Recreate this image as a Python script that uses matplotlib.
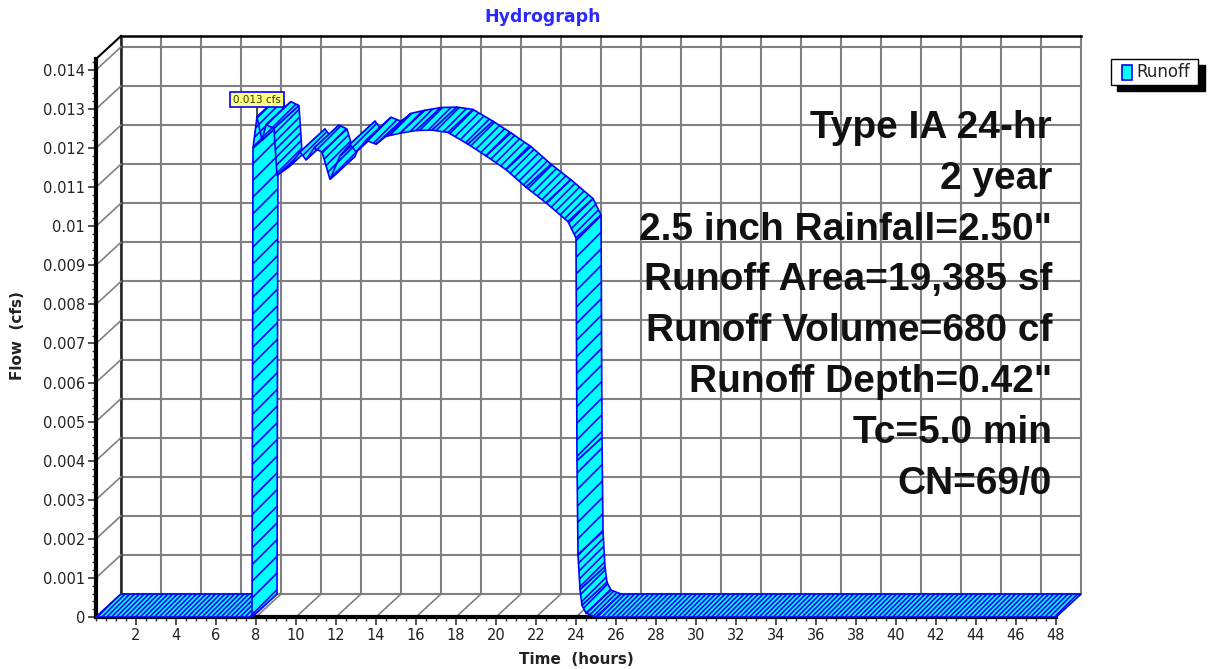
import numpy as np
import matplotlib
matplotlib.use("Agg")
import matplotlib.pyplot as plt
from matplotlib.patches import Polygon, Rectangle
from matplotlib.ticker import MultipleLocator, FixedLocator, FuncFormatter

# Runoff hydrograph, Type IA 24-hr storm (time in hours, flow in cfs)
time_hr = [0.0, 7.80, 7.85, 8.05, 8.30, 8.50, 8.90, 9.05, 9.60, 10.2, 10.5,
           10.9, 11.3, 11.7, 12.2, 12.7, 13.0, 13.5, 14.0, 14.5, 15.2, 16.0,
           16.8, 17.6, 18.6, 19.5, 20.5, 21.5, 22.5, 23.6, 24.0, 24.05, 24.1,
           24.2, 24.3, 24.5, 25.0, 48.0]
flow_cfs = [0.0, 0.0, 0.0120, 0.0128, 0.0122, 0.0126, 0.0125, 0.0113, 0.0115,
            0.0119, 0.0117, 0.0120, 0.0119, 0.0112, 0.0118, 0.0121, 0.0119,
            0.0122, 0.0121, 0.0123, 0.01238, 0.01245, 0.01246, 0.0124, 0.0121,
            0.0118, 0.01145, 0.0110, 0.0106, 0.01012, 0.0097, 0.0040, 0.0016,
            0.0007, 0.0003, 0.0001, 0.0, 0.0]

x_ticks = list(range(2, 49, 2))
summary_lines = ["Type IA 24-hr", "2 year", '2.5 inch Rainfall=2.50"',
                 "Runoff Area=19,385 sf", "Runoff Volume=680 cf",
                 'Runoff Depth=0.42"', "Tc=5.0 min", "CN=69/0"]

W, H = 1209, 669
CYAN, BLUE, GRID = "#00ffff", "#0000ff", "#808080"
X_MAX, Y_MAX = 48, 0.01428

plt.rcParams["font.family"] = ["DejaVu Sans"]
plt.rcParams["hatch.color"] = BLUE
plt.rcParams["hatch.linewidth"] = 1.2


def fx(px):
    return px / W


def fy(py):
    return 1 - py / H


fig = plt.figure(figsize=(W / 100, H / 100), dpi=100)
ax = fig.add_axes([fx(96), fy(617), 960 / W, 558 / H])
ax.set_xlim(0, X_MAX)
ax.set_ylim(0, Y_MAX)

# depth of the pseudo-3D box, pixels converted to data units
dx = 25 * X_MAX / 960
dy = 23 * Y_MAX / 558

# back wall grid
for t in range(0, X_MAX + 1, 2):
    ax.plot([t + dx] * 2, [dy, Y_MAX + dy], color=GRID, lw=1.5, clip_on=False, zorder=1)
for q in np.arange(0, 0.0145, 0.001):
    ax.plot([dx, X_MAX + dx], [q + dy] * 2, color=GRID, lw=1.5, clip_on=False, zorder=1)
ax.plot([dx, X_MAX + dx], [Y_MAX + dy] * 2, color="black", lw=1.8, clip_on=False, zorder=1)
ax.plot([dx, dx], [dy, Y_MAX + dy], color="#222222", lw=1.8, clip_on=False, zorder=1)

# floor and side wall diagonals
for t in range(0, X_MAX + 1, 2):
    ax.plot([t, t + dx], [0, dy], color=GRID, lw=1.2, clip_on=False, zorder=1)
for q in np.arange(0, 0.0145, 0.001):
    ax.plot([0, dx], [q, q + dy], color=GRID, lw=1.2, clip_on=False, zorder=1)
ax.plot([0, dx], [Y_MAX, Y_MAX + dy], color="black", lw=1.5, clip_on=False, zorder=1)

# ribbon: one extruded quad per segment
for t0, t1, q0, q1 in zip(time_hr[:-1], time_hr[1:], flow_cfs[:-1], flow_cfs[1:]):
    if max(q0, q1) < 0.0002:
        hatch = "///////"
    elif abs(q1 - q0) / max(t1 - t0, 1e-6) > 0.01:
        hatch = "//"
    else:
        hatch = "////"
    verts = [(t0, q0), (t1, q1), (t1 + dx, q1 + dy), (t0 + dx, q0 + dy)]
    ax.add_patch(Polygon(verts, closed=True, fc=CYAN, ec=BLUE, lw=1.2,
                         hatch=hatch, clip_on=False, zorder=3))

# peak label
i_peak = int(np.argmax(flow_cfs))
ax.annotate(f"{flow_cfs[i_peak]:.3f} cfs", xy=(time_hr[i_peak], flow_cfs[i_peak]),
            xytext=(0, 17), textcoords="offset pixels", ha="center", va="center",
            fontsize=7.5, color="#333300", zorder=6,
            bbox=dict(boxstyle="square,pad=0.25", fc="#ffff80", ec=BLUE, lw=1.2),
            arrowprops=dict(arrowstyle="-", color="black", lw=1, shrinkA=0, shrinkB=0))

# front axes
for side in ("top", "right"):
    ax.spines[side].set_visible(False)
for side in ("left", "bottom"):
    ax.spines[side].set_linewidth(3)
    ax.spines[side].set_color("black")
ax.set_facecolor("none")
ax.xaxis.set_major_locator(FixedLocator(x_ticks))
ax.xaxis.set_minor_locator(MultipleLocator(0.5))
ax.yaxis.set_major_locator(MultipleLocator(0.001))
ax.yaxis.set_minor_locator(MultipleLocator(0.0002))
ax.yaxis.set_major_formatter(FuncFormatter(lambda v, p: f"{round(v, 4):g}"))
ax.tick_params(which="major", length=6, width=1.2, color="#333333",
               labelsize=10.5, labelcolor="#222222", pad=2)
ax.tick_params(which="minor", length=3, width=1, color="#333333")

fig.text(fx(576), fy(659), "Time  (hours)", ha="center", va="center",
         fontsize=11, fontweight="bold", color="#222222")
fig.text(fx(18), fy(336), "Flow  (cfs)", ha="center", va="center", rotation=90,
         fontsize=11, fontweight="bold", color="#222222")
fig.text(fx(543), fy(17), "Hydrograph", ha="center", va="center",
         fontsize=12.5, fontweight="bold", color="#2a2aff")

for k, line in enumerate(summary_lines):
    fig.text(fx(1052), fy(128 + 50.8 * k), line, ha="right", va="center",
             fontsize=28, fontweight="bold", family="Liberation Sans",
             color="#111111", zorder=5)

# legend box with drop shadow
fig.patches.append(Rectangle((fx(1117), fy(91)), 88 / W, 26 / H, fc="black",
                             ec="black", transform=fig.transFigure))
fig.patches.append(Rectangle((fx(1111), fy(85)), 87 / W, 26 / H, fc="white",
                             ec="black", lw=1, transform=fig.transFigure))
fig.patches.append(Rectangle((fx(1122), fy(80)), 10 / W, 15 / H, fc=CYAN,
                             ec=BLUE, lw=1.2, transform=fig.transFigure))
fig.text(fx(1136), fy(72), "Runoff", ha="left", va="center", fontsize=12,
         color="#222222")

fig.savefig("out.png", dpi=100)
